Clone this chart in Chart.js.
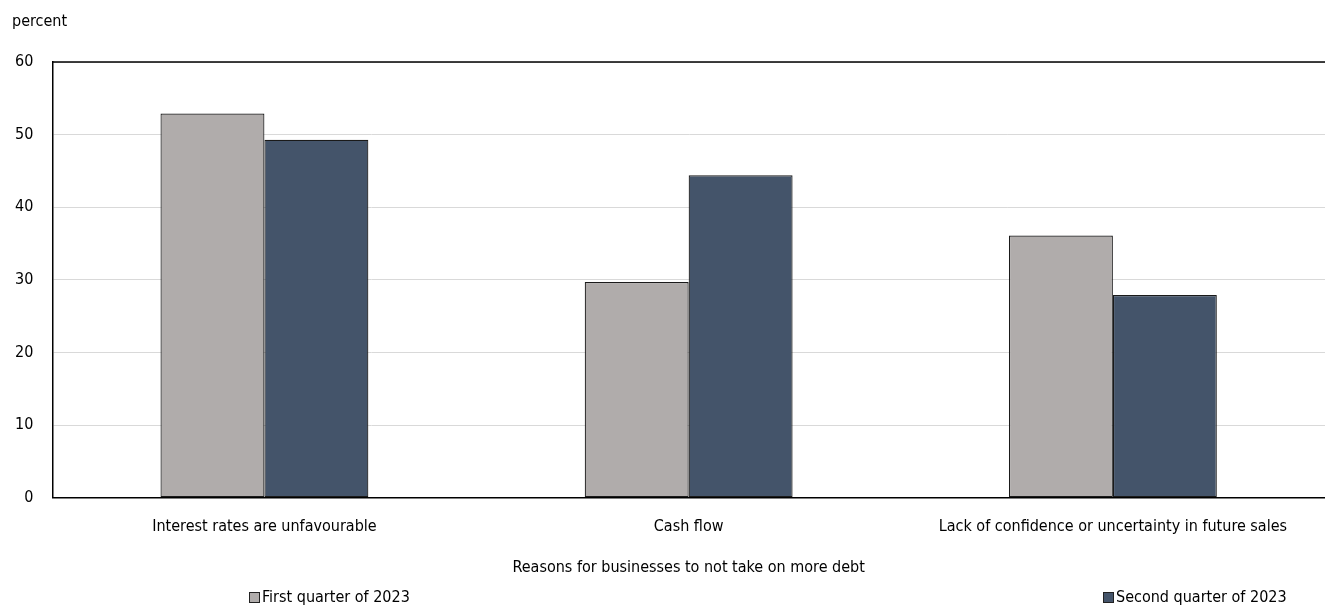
<!DOCTYPE html>
<html>
<head>
<meta charset="utf-8">
<script src="https://cdn.jsdelivr.net/npm/chart.js@4.4.0/dist/chart.umd.min.js"></script>
<style>
  html, body { margin: 0; padding: 0; background: #fff; overflow: hidden; }
  canvas { display: block; }
</style>
</head>
<body>
<canvas id="grafico" width="1325" height="610"></canvas>
<script>
const categorias = [
    "Interest rates are unfavourable",
    "Cash flow",
    "Lack of confidence or uncertainty in future sales"
];
const primerTrimestre = [52.9, 29.7, 36.1];
const segundoTrimestre = [49.3, 44.4, 27.9];
const etiquetasSeries = ["First quarter of 2023", "Second quarter of 2023"];
const tituloEjeX = "Reasons for businesses to not take on more debt";
const tituloEjeY = "percent";

const fuente = "'Liberation Sans Narrow', 'DejaVu Sans Condensed', sans-serif";
Chart.defaults.font.family = fuente;
Chart.defaults.font.size = 16;
Chart.defaults.color = "#000";

// texto "percent", linea superior y leyenda
const extras = {
    id: "extras",
    afterDraw(chart) {
        const ctx = chart.ctx;
        const area = chart.chartArea;
        ctx.save();
        ctx.strokeStyle = "#000";
        ctx.lineWidth = 1.5;
        ctx.beginPath();
        ctx.moveTo(area.left, area.top);
        ctx.lineTo(chart.width, area.top);
        ctx.stroke();

        ctx.font = "16px " + fuente;
        ctx.fillStyle = "#000";
        ctx.textBaseline = "middle";
        ctx.textAlign = "left";
        ctx.fillText(tituloEjeY, 12, 22);

        const posiciones = [249, 1103];
        chart.data.datasets.forEach((ds, i) => {
            const x = posiciones[i];
            const y = 597;
            ctx.fillStyle = ds.backgroundColor;
            ctx.fillRect(x, y - 5, 10, 10);
            ctx.strokeStyle = "#222";
            ctx.lineWidth = 1;
            ctx.strokeRect(x + 0.5, y - 4.5, 10, 10);
            ctx.fillStyle = "#000";
            ctx.fillText(ds.label, x + 13, y + 1);
        });
        ctx.restore();
    }
};

new Chart(document.getElementById("grafico"), {
    type: "bar",
    data: {
        labels: categorias,
        datasets: [
            {
                label: etiquetasSeries[0],
                data: primerTrimestre,
                backgroundColor: "#b0acab",
                borderColor: "#1a1a1a",
                borderWidth: 1.2,
                borderSkipped: false
            },
            {
                label: etiquetasSeries[1],
                data: segundoTrimestre,
                backgroundColor: "#44546a",
                borderColor: "#1a1a1a",
                borderWidth: 1.2,
                borderSkipped: false
            }
        ]
    },
    options: {
        responsive: false,
        animation: false,
        devicePixelRatio: 1,
        layout: { padding: { top: 62, left: -4, right: 0, bottom: 31 } },
        categoryPercentage: 0.49,
        barPercentage: 1,
        plugins: {
            legend: { display: false },
            tooltip: { enabled: false }
        },
        scales: {
            x: {
                grid: { display: false, drawTicks: false },
                border: { color: "#000", width: 1.5 },
                ticks: { padding: 20, maxRotation: 0 },
                title: {
                    display: true,
                    text: tituloEjeX,
                    padding: { top: 1, bottom: 2 }
                }
            },
            y: {
                min: 0,
                max: 60,
                ticks: { stepSize: 10, padding: 19 },
                grid: { color: "#d9d9d9", drawTicks: false },
                border: { color: "#000", width: 1.5 }
            }
        }
    },
    plugins: [extras]
});
</script>
</body>
</html>
